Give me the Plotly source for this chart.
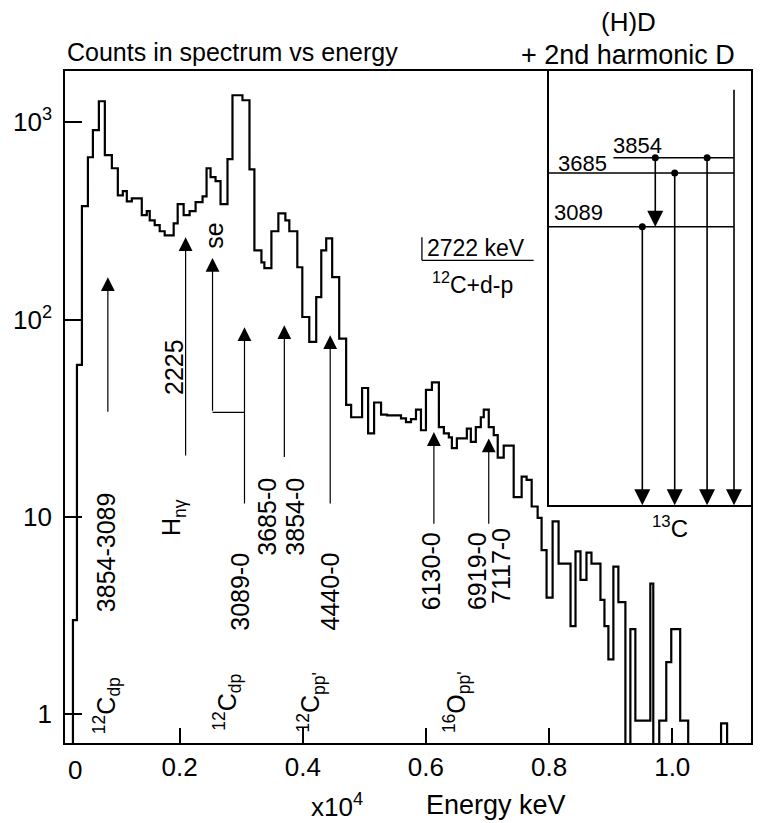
import numpy as np
import plotly.graph_objects as go

# ---------------- data ----------------
# histogram bin edges (keV) and counts per bin (0.3 = empty / below axis)
bin_edges = [267, 332, 413, 510, 591, 688, 785, 899, 996, 1077,
             1142, 1223, 1385, 1466, 1514, 1595, 1676, 1757, 1903, 1968,
             2065, 2162, 2259, 2372, 2437, 2502, 2583, 2664, 2777, 2858,
             3020, 3134, 3214, 3328, 3376, 3490, 3603, 3717, 3781, 3911,
             3992, 4105, 4218, 4300, 4380, 4477, 4591, 4704, 4785, 4963,
             5061, 5158, 5271, 5368, 5595, 5676, 5757, 5838, 5919, 6000,
             6097, 6210, 6291, 6372, 6421, 6502, 6664, 6729, 6810, 6891,
             6939, 7020, 7101, 7166, 7263, 7425, 7554, 7635, 7717, 7814,
             7878, 7959, 8057, 8154, 8348, 8429, 8510, 8607, 8688, 8834,
             8899, 8963, 9044, 9125, 9239, 9320, 9401, 9644, 9692, 9789,
             9903, 9984, 10129, 10259, 10793, 10891, 11400]
counts = [3.0, 59, 375, 664, 910, 1276, 680, 584, 426, 447,
          397, 411, 338, 354, 318, 301, 280, 267, 307, 384,
          338, 354, 393, 421, 584, 526, 502, 384, 649, 1368,
          1291, 577, 224, 195, 182, 280, 345, 318, 280, 184,
          103, 77, 130, 224, 258, 164, 80, 37, 32, 45,
          26.5, 38, 33, 32.7, 31.6, 30.2, 31.3, 35, 27.5, 44,
          48, 28.5, 26.5, 25.3, 22.3, 25, 28, 24, 28.5, 32,
          35, 28.5, 26, 20, 23, 12.6, 16, 15.4, 11.3, 9.9,
          6.8, 3.9, 9.5, 5.8, 2.8, 6.7, 4.8, 6.6, 5.8, 3.8,
          2.8, 1.9, 5.6, 3.7, 0.3, 2.7, 0.93, 4.6, 0.3, 0.93,
          1.84, 2.7, 0.93, 0.3, 0.9, 0.3]
floor_count = 0.3

x_tick_vals = [2000, 4000, 6000, 8000, 10000]
x_tick_text = ["0.2", "0.4", "0.6", "0.8", "1.0"]
y_tick_vals = [1, 10, 100, 1000]
y_tick_text = ["1", "10", "10<sup>2</sup>", "10<sup>3</sup>"]

# 13C level scheme (keV)
levels = [3089, 3685, 3854]
level_labels = ["3089", "3685", "3854"]
harmonic_top = 4625

FONT = "Liberation Sans, Arial, Helvetica, sans-serif"

# ---------------- build step line ----------------
xs = [bin_edges[0]]
ys = [floor_count]
for i, c in enumerate(counts):
    xs += [bin_edges[i], bin_edges[i + 1]]
    ys += [c, c]

fig = go.Figure()
fig.add_trace(go.Scatter(x=xs, y=ys, mode="lines",
                         line=dict(color="black", width=2.2),
                         hoverinfo="skip"))

# "se" connector line (horizontal)
fig.add_trace(go.Scatter(x=[2534, 3053], y=[33.9, 33.9], mode="lines",
                         line=dict(color="black", width=1.2), hoverinfo="skip"))

# ---------------- level diagram (inset axes) ----------------
lvl_x0 = {3089: 0.0, 3685: 0.0, 3854: 0.32}
for e in levels:
    fig.add_trace(go.Scatter(x=[lvl_x0[e], 0.916], y=[e, e], mode="lines",
                             line=dict(color="black", width=1.6),
                             xaxis="x2", yaxis="y2", hoverinfo="skip"))
fig.add_trace(go.Scatter(x=[0.463, 0.623, 0.527, 0.783],
                         y=[levels[0], levels[1], levels[2], levels[2]],
                         mode="markers", marker=dict(color="black", size=7),
                         xaxis="x2", yaxis="y2", hoverinfo="skip"))

annotations = []

def inset_arrow(xu, e_from, e_to):
    annotations.append(dict(x=xu, y=e_to, ax=xu, ay=e_from, xref="x2", yref="y2",
                            axref="x2", ayref="y2", text="", showarrow=True,
                            arrowhead=2, arrowsize=2.0, arrowwidth=1.6,
                            arrowcolor="black", standoff=0, startstandoff=0))

inset_arrow(0.463, levels[0], 0)
inset_arrow(0.623, levels[1], 0)
inset_arrow(0.783, levels[2], 0)
inset_arrow(0.916, harmonic_top, 0)
inset_arrow(0.527, levels[2], levels[0])

# level labels
for e, lab, xu, ey in [(3854, "3854", 0.31, 3992), (3685, "3685", 0.034, 3793),
                       (3089, "3089", 0.015, 3249)]:
    annotations.append(dict(x=xu, y=ey, xref="x2", yref="y2", text=lab,
                            showarrow=False, xanchor="left", yanchor="middle",
                            font=dict(size=22, family=FONT)))

# ---------------- arrows in main spectrum ----------------
def main_arrow(xk, c_tail, c_head):
    annotations.append(dict(x=xk, y=np.log10(c_head), ax=xk, ay=np.log10(c_tail),
                            xref="x", yref="y", axref="x", ayref="y", text="",
                            showarrow=True, arrowhead=2, arrowsize=2.3,
                            arrowwidth=1.2, arrowcolor="black",
                            standoff=0, startstandoff=0))

main_arrow(834, 33.5, 164)     # 3854-3089
main_arrow(2097, 20.1, 261)    # 2225 H n-gamma
main_arrow(2534, 33.9, 205)    # se
main_arrow(3053, 11.5, 91.4)   # 3089-0
main_arrow(3700, 19.8, 93.6)   # 3685-0 / 3854-0
main_arrow(4445, 11.5, 83.3)   # 4440-0
main_arrow(6129, 9.08, 26.9)   # 6130-0
main_arrow(7020, 9.08, 25.0)   # 6919-0 / 7117-0

# rotated labels (paper coords)
rot_labels = [
    ("3854-3089", 0.0596, 0.2838),
    ("2225", 0.1599, 0.5591),
    ("H<sub>nγ</sub>", 0.1584, 0.3359),
    ("se", 0.218, 0.7540),
    ("3089-0", 0.2558, 0.2258),
    ("3685-0", 0.2951, 0.3374),
    ("3854-0", 0.3358, 0.3374),
    ("4440-0", 0.3866, 0.2258),
    ("6130-0", 0.5334, 0.2555),
    ("6919-0", 0.6017, 0.2555),
    ("7117-0", 0.6366, 0.2630),
    ("<sup>12</sup>C<sub>dp</sub>", 0.061, 0.0561),
    ("<sup>12</sup>C<sub>dp</sub>", 0.2369, 0.0606),
    ("<sup>12</sup>C<sub>pp'</sub>", 0.359, 0.0606),
    ("<sup>16</sup>O<sub>pp'</sub>", 0.5712, 0.0606),
]
for t, xp, yp in rot_labels:
    annotations.append(dict(x=xp, y=yp, xref="paper", yref="paper", text=t,
                            textangle=-90, showarrow=False, xanchor="center",
                            yanchor="middle", font=dict(size=25, family=FONT)))

# other texts
plain = [
    ("Counts in spectrum vs energy", 0.0, 1.028, "left", 25),
    ("(H)D", 0.8212, 1.0725, "center", 26),
    ("+ 2nd harmonic D", 0.8212, 1.0234, "center", 27),
    ("2722 keV", 0.5988, 0.7361, "center", 23),
    ("<sup>12</sup>C+d-p", 0.5945, 0.684, "center", 23),
    ("<sup>13</sup>C", 0.8823, 0.321, "center", 24),
    ("x10<sup>4</sup>", 0.397, -0.0927, "center", 26),
    ("Energy keV", 0.629, -0.0927, "center", 27),
    ("0", 0.0145, -0.0406, "center", 26),
]
for t, xp, yp, xa, fs in plain:
    annotations.append(dict(x=xp, y=yp, xref="paper", yref="paper", text=t,
                            showarrow=False, xanchor=xa, yanchor="middle",
                            font=dict(size=fs, family=FONT)))

shapes = [
    dict(type="line", xref="paper", yref="paper", x0=0.5203, x1=0.5203,
         y0=0.7183, y1=0.7525, line=dict(color="black", width=1.3)),
    dict(type="line", xref="paper", yref="paper", x0=0.5203, x1=0.6831,
         y0=0.7183, y1=0.7183, line=dict(color="black", width=1.3)),
]

fig.update_layout(
    width=765, height=823,
    margin=dict(l=65, r=12, t=71, b=80),
    plot_bgcolor="white", paper_bgcolor="white",
    showlegend=False,
    font=dict(family=FONT, size=25, color="black"),
    xaxis=dict(range=[138, 11279], tickvals=x_tick_vals, ticktext=x_tick_text,
               ticks="inside", ticklen=15, tickwidth=1.5, tickcolor="black",
               showline=True, linewidth=1.6, linecolor="black", mirror=True,
               showgrid=False, zeroline=False, tickfont=dict(size=26)),
    yaxis=dict(type="log", range=[-0.145, 3.259], tickvals=y_tick_vals,
               ticktext=y_tick_text, ticks="inside", ticklen=17, tickwidth=1.5,
               tickcolor="black", showline=True, linewidth=1.6, linecolor="black",
               mirror=True, showgrid=False, zeroline=False, tickfont=dict(size=26),
               ticklabelstandoff=6),
    xaxis2=dict(domain=[0.705, 1.0], anchor="y2", range=[0, 1], showline=True,
                linewidth=1.6, linecolor="black", showgrid=False, zeroline=False,
                showticklabels=False, ticks=""),
    yaxis2=dict(domain=[0.3537, 1.0], anchor="x2", range=[0, 4816], showline=True,
                linewidth=1.6, linecolor="black", showgrid=False, zeroline=False,
                showticklabels=False, ticks=""),
    annotations=annotations,
    shapes=shapes,
)

fig.write_html("out.html")
